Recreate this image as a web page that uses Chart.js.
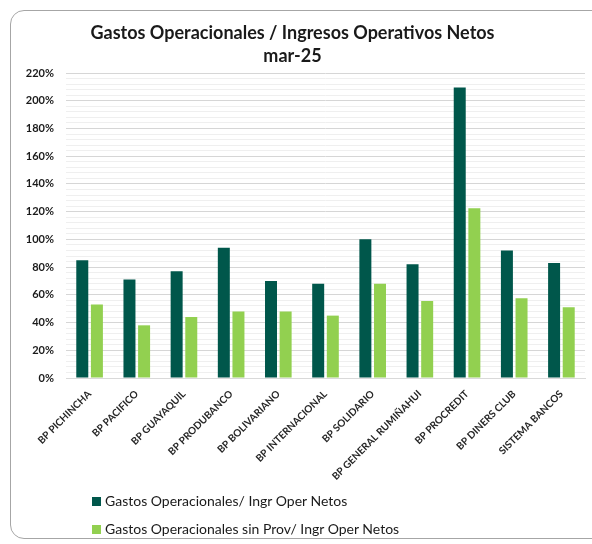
<!DOCTYPE html>
<html>
<head>
<meta charset="utf-8">
<script src="https://cdn.jsdelivr.net/npm/chart.js@4"></script>
<style>
  body { margin: 0; background: #fff; }
  #wrap { position: relative; width: 592px; height: 544px; overflow: hidden; }
  #frame { position: absolute; left: 10px; top: 10px; width: 600px; height: 529px;
           border: 1.5px solid #a6a6a6; border-radius: 14px; box-sizing: border-box; }
  canvas { position: absolute; left: 0; top: 0; }
  #legend { position: absolute; left: 92px; top: 491px; font-family: Lato, sans-serif;
            font-size: 14px; color: #1a1a1a; }
  #legend div { height: 20px; line-height: 20px; margin-bottom: 8px; white-space: nowrap; }
  #legend span { display: inline-block; width: 9px; height: 9px; margin-right: 4px; vertical-align: 0px; }
</style>
</head>
<body>
<div id="wrap">
  <div id="frame"></div>
  <canvas id="chart" width="592" height="544"></canvas>
  <div id="legend"></div>
</div>
<script>
const titleLines = ['Gastos Operacionales / Ingresos Operativos Netos', 'mar-25'];
const banks = ['BP PICHINCHA', 'BP PACIFICO', 'BP GUAYAQUIL', 'BP PRODUBANCO', 'BP BOLIVARIANO',
  'BP INTERNACIONAL', 'BP SOLIDARIO', 'BP GENERAL RUMIÑAHUI', 'BP PROCREDIT', 'BP DINERS CLUB', 'SISTEMA BANCOS'];
const gastosIngr = [85, 71, 77, 94, 70, 68, 100, 82, 209.5, 92, 83];
const gastosSinProv = [53, 38, 44, 48, 48, 45, 68, 55.5, 122.5, 57.5, 51];
const seriesNames = ['Gastos Operacionales/ Ingr Oper Netos', 'Gastos Operacionales sin Prov/ Ingr Oper Netos'];
const seriesColors = ['#00574B', '#92D050'];

const legend = document.getElementById('legend');
seriesNames.forEach((name, i) => {
  const row = document.createElement('div');
  const box = document.createElement('span');
  box.style.background = seriesColors[i];
  row.appendChild(box);
  row.appendChild(document.createTextNode(name));
  legend.appendChild(row);
});

const ctx = document.getElementById('chart').getContext('2d');
new Chart(ctx, {
  type: 'bar',
  data: {
    labels: banks,
    datasets: [{
      label: seriesNames[0],
      data: gastosIngr,
      backgroundColor: seriesColors[0],
      categoryPercentage: 0.62,
      barPercentage: 0.82
    }, {
      label: seriesNames[1],
      data: gastosSinProv,
      backgroundColor: seriesColors[1],
      categoryPercentage: 0.62,
      barPercentage: 0.82
    }]
  },
  options: {
    responsive: false,
    animation: false,
    layout: { padding: { left: 0, right: 7, top: 22, bottom: 62 } },
    plugins: {
      legend: { display: false },
      tooltip: { enabled: false },
      title: {
        display: true,
        text: titleLines,
        color: '#1a1a1a',
        font: { family: 'Lato', size: 18, weight: 'bold', lineHeight: 1.25 },
        padding: { top: 0, bottom: 6 }
      }
    },
    scales: {
      x: {
        grid: { display: false },
        border: { color: '#d9d9d9' },
        ticks: {
          autoSkip: false,
          minRotation: 45,
          maxRotation: 45,
          padding: 2,
          color: '#262626',
          font: { family: 'Lato', size: 10, weight: 'bold' }
        },
        afterFit: (scale) => { scale.height = 104; }
      },
      y: {
        min: 0,
        max: 220,
        border: { display: false },
        grid: {
          drawTicks: false,
          color: (c) => (c.tick.value % 20 === 0 ? '#d6d6d6' : '#efefef')
        },
        ticks: {
          stepSize: 4,
          autoSkip: false,
          padding: 12,
          color: '#1a1a1a',
          font: { family: 'Lato', size: 11, weight: 'bold' },
          callback: (v) => (v % 20 === 0 ? v + '%' : '')
        },
        afterFit: (scale) => { scale.width = 66; }
      }
    }
  }
});
</script>
</body>
</html>
